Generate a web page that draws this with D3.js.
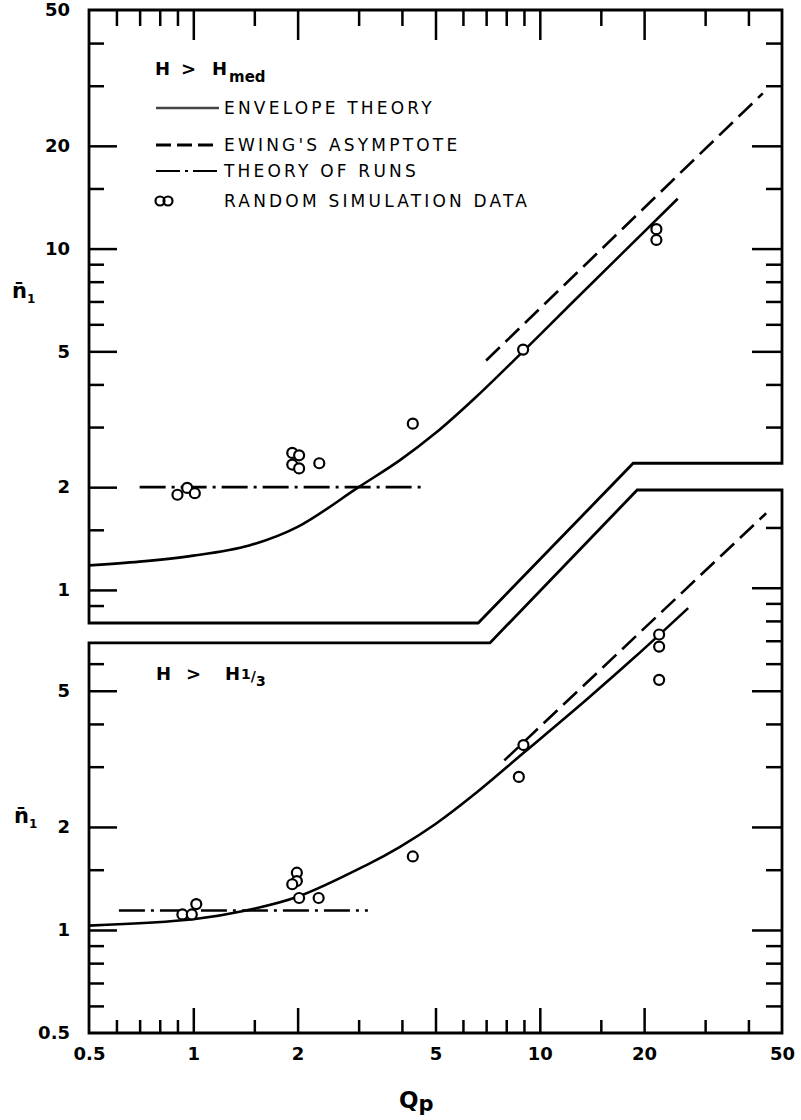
<!DOCTYPE html>
<html lang="en">
<head>
<meta charset="UTF-8">
<title>Mean run length vs Qp</title>
<script src="https://d3js.org/d3.v7.min.js"></script>
<style>
  body { margin: 0; background: #fff; }
  svg { display: block; font-family: "DejaVu Sans", sans-serif; }
  .tick text { font-family: "DejaVu Sans", sans-serif; font-weight: bold; font-size: 18px; fill: #000; }
  .tick line { stroke: #000; stroke-width: 2.5; }
  .frame { fill: none; stroke: #000; stroke-width: 2.8; stroke-linejoin: miter; }
  .curve { fill: none; stroke: #000; stroke-width: 2.6; }
  .legend text { font-size: 17px; letter-spacing: 3.2px; fill: #000; }
</style>
</head>
<body>
<svg width="801" height="1120"></svg>
<script>
// ---- data (Qp, mean run length) ----
const xLabelValues = [0.5, 1, 2, 5, 10, 20, 50];
const xLabelTexts = ["0.5", "1", "2", "5", "10", "20", "50"];
const upperLabelValues = [1, 2, 5, 10, 20, 50];
const lowerLabelValues = [0.5, 1, 2, 5];
const tickMantissas = [1, 1.5, 2, 3, 4, 5, 6, 7, 8, 9];
const majorMantissas = [1, 2, 5];

// panel outlines (broken axis between the two panels)
const upperFrame = [[0.5, 50], [50, 50], [50, 2.35], [18.6, 2.35], [6.64, 0.8], [0.5, 0.8]];
const lowerFrame = [[0.5, 6.9], [7.18, 6.9], [19.1, 19.3], [50, 19.3], [50, 0.5], [0.5, 0.5]];

// H > H_med
const upperEnvelope = [[0.5, 1.18], [0.7, 1.21], [1.0, 1.26], [1.45, 1.35], [2.0, 1.53], [3.0, 2.0],
                       [3.95, 2.4], [5.0, 2.88], [6.5, 3.65], [8.95, 5.0], [12.5, 7.0], [25, 14.0]];
const upperEwing = [[7.0, 4.7], [44, 28.5]];
const upperRuns = [[0.7, 2.0], [4.6, 2.0]];
const upperSim = [[0.90, 1.90], [0.96, 1.99], [1.01, 1.92], [1.93, 2.52], [2.02, 2.48], [1.93, 2.33],
                  [2.02, 2.27], [2.31, 2.35], [4.3, 3.07], [8.95, 5.06], [21.7, 11.4], [21.7, 10.6]];

// H > H1/3
const lowerEnvelope = [[0.5, 1.03], [1.0, 1.075], [1.42, 1.14], [2.0, 1.25], [3.17, 1.55], [3.95, 1.75],
                       [5.0, 2.04], [6.5, 2.5], [9.0, 3.3], [13.6, 4.7], [18.7, 6.24], [26.8, 8.72]];
const lowerEwing = [[7.9, 3.13], [45, 16.5]];
const lowerRuns = [[0.61, 1.14], [3.19, 1.14]];
const lowerSim = [[0.93, 1.11], [0.99, 1.11], [1.02, 1.19], [1.99, 1.47], [1.99, 1.39], [1.93, 1.36],
                  [2.02, 1.24], [2.30, 1.24], [4.3, 1.64], [8.7, 2.80], [8.97, 3.47],
                  [22.1, 7.3], [22.1, 6.73], [22.1, 5.38]];

const legendLabels = ["ENVELOPE THEORY", "EWING'S ASYMPTOTE", "THEORY OF RUNS", "RANDOM SIMULATION DATA"];

// ---- scales ----
const svg = d3.select("svg");
const x = d3.scaleLog().domain([0.5, 50]).range([89, 782]);
const yUp = d3.scaleLog().domain([0.8, 50]).range([623, 10]);
const yLo = d3.scaleLog().domain([0.5, 19.3]).range([1033, 490]);

function logTicks(lo, hi) {
  const out = [];
  for (let e = -1; e <= 1; e++) {
    tickMantissas.forEach(m => {
      const v = +(m * Math.pow(10, e)).toPrecision(3);
      if (v > lo + 1e-9 && v < hi - 1e-9) out.push(v);
    });
  }
  return out;
}
function isMajor(v) {
  const m = +(v / Math.pow(10, Math.floor(Math.log10(v) + 1e-9))).toPrecision(3);
  return majorMantissas.includes(m);
}
function tickAxis(axisFn, scale, lo, hi, pos, longLen, shortLen) {
  const all = logTicks(lo, hi);
  [[all.filter(isMajor), longLen], [all.filter(v => !isMajor(v)), shortLen]].forEach(([vals, len]) => {
    const g = svg.append("g").attr("transform", pos)
      .call(axisFn(scale).tickValues(vals).tickSize(-len).tickFormat(""));
    g.select(".domain").remove();
  });
}
function labelAxis(axisFn, scale, vals, fmt, pos, pad) {
  const g = svg.append("g").attr("transform", pos)
    .call(axisFn(scale).tickValues(vals).tickSize(0).tickPadding(pad).tickFormat(fmt));
  g.select(".domain").remove();
  g.selectAll("line").remove();
  return g;
}

// ---- ticks ----
tickAxis(d3.axisTop, x, 0.5, 50, "translate(0,10)", 30, 16);
tickAxis(d3.axisBottom, x, 0.5, 50, "translate(0,1033)", 25, 13);
tickAxis(d3.axisLeft, yUp, 0.8, 50, "translate(89,0)", 28, 15);
tickAxis(d3.axisRight, yUp, 2.35, 50, "translate(782,0)", 30, 16);
tickAxis(d3.axisLeft, yLo, 0.5, 6.9, "translate(89,0)", 28, 15);
tickAxis(d3.axisRight, yLo, 0.5, 19.3, "translate(782,0)", 30, 16);

labelAxis(d3.axisBottom, x, xLabelValues, (d, i) => xLabelTexts[i], "translate(0,1033)", 14);
labelAxis(d3.axisLeft, yUp, upperLabelValues, d3.format("~g"), "translate(89,0)", 19);
labelAxis(d3.axisLeft, yLo, lowerLabelValues, d3.format("~g"), "translate(89,0)", 19);

// ---- frames ----
const frameUp = d3.line().x(d => x(d[0])).y(d => yUp(d[1])).curve(d3.curveLinearClosed);
const frameLo = d3.line().x(d => x(d[0])).y(d => yLo(d[1])).curve(d3.curveLinearClosed);
svg.append("path").attr("class", "frame").attr("d", frameUp(upperFrame));
svg.append("path").attr("class", "frame").attr("d", frameLo(lowerFrame));

// ---- curves ----
function drawPanel(y, env, ewing, runs, sim) {
  const smooth = d3.line().x(d => x(d[0])).y(d => y(d[1])).curve(d3.curveCatmullRom.alpha(0.5));
  const straight = d3.line().x(d => x(d[0])).y(d => y(d[1]));
  svg.append("path").attr("class", "curve").attr("d", smooth(env));
  svg.append("path").attr("class", "curve").attr("stroke-width", 3)
    .attr("stroke-dasharray", "19,8").attr("d", straight(ewing));
  svg.append("path").attr("class", "curve").attr("stroke-width", 2)
    .attr("stroke-dasharray", "26,6,3,6").attr("d", straight(runs));
  svg.append("g").selectAll("circle").data(sim).join("circle")
    .attr("cx", d => x(d[0])).attr("cy", d => y(d[1])).attr("r", 5)
    .attr("fill", "#fff").attr("stroke", "#000").attr("stroke-width", 2.2);
}
drawPanel(yUp, upperEnvelope, upperEwing, upperRuns, upperSim);
drawPanel(yLo, lowerEnvelope, lowerEwing, lowerRuns, lowerSim);

// ---- panel titles ----
const t1 = svg.append("text").attr("y", 75).attr("font-weight", "bold").attr("font-size", 18);
t1.append("tspan").attr("x", 155).text("H");
t1.append("tspan").attr("x", 181).text(">");
t1.append("tspan").attr("x", 212).text("H");
t1.append("tspan").attr("x", 229).attr("dy", 7).attr("font-size", 15).text("med");

const t2 = svg.append("text").attr("y", 680).attr("font-weight", "bold").attr("font-size", 18);
t2.append("tspan").attr("x", 156).text("H");
t2.append("tspan").attr("x", 186).text(">");
t2.append("tspan").attr("x", 225).text("H");
t2.append("tspan").attr("x", 241).attr("dy", -1).attr("font-size", 14).text("1");
t2.append("tspan").attr("font-size", 14).attr("dy", 2).text("/");
t2.append("tspan").attr("font-size", 14).attr("dy", 5).text("3");

// ---- legend ----
const legend = svg.append("g").attr("class", "legend");
const rows = [108, 145, 171, 201];
const styles = [
  { dash: null, w: 2.5, color: "#444" },
  { dash: "15,6", w: 3, color: "#000" },
  { dash: "24,5,3,5", w: 2, color: "#000" },
  null
];
legendLabels.forEach((lab, i) => {
  const s = styles[i];
  if (s) {
    legend.append("line").attr("x1", 156).attr("x2", 219).attr("y1", rows[i]).attr("y2", rows[i])
      .attr("stroke", s.color).attr("stroke-width", s.w).attr("stroke-dasharray", s.dash);
  } else {
    [160, 168].forEach(cx => legend.append("circle").attr("cx", cx).attr("cy", rows[i]).attr("r", 4.5)
      .attr("fill", "none").attr("stroke", "#000").attr("stroke-width", 2.2));
  }
  legend.append("text").attr("x", 224).attr("y", rows[i]).attr("dy", "0.36em").text(lab);
});

// ---- axis titles ----
[[298, 12], [823, 14]].forEach(([yy, xx]) => {
  const t = svg.append("text").attr("x", xx).attr("y", yy).attr("font-weight", "bold").attr("font-size", 21);
  t.append("tspan").text("n\u0304");
  t.append("tspan").attr("dy", 5).attr("font-size", 12).text("1");
});
const q = svg.append("text").attr("x", 399).attr("y", 1108).attr("font-weight", "bold").attr("font-size", 23);
q.append("tspan").text("Q");
q.append("tspan").attr("dy", 3).attr("font-size", 21).text("p");
</script>
</body>
</html>
